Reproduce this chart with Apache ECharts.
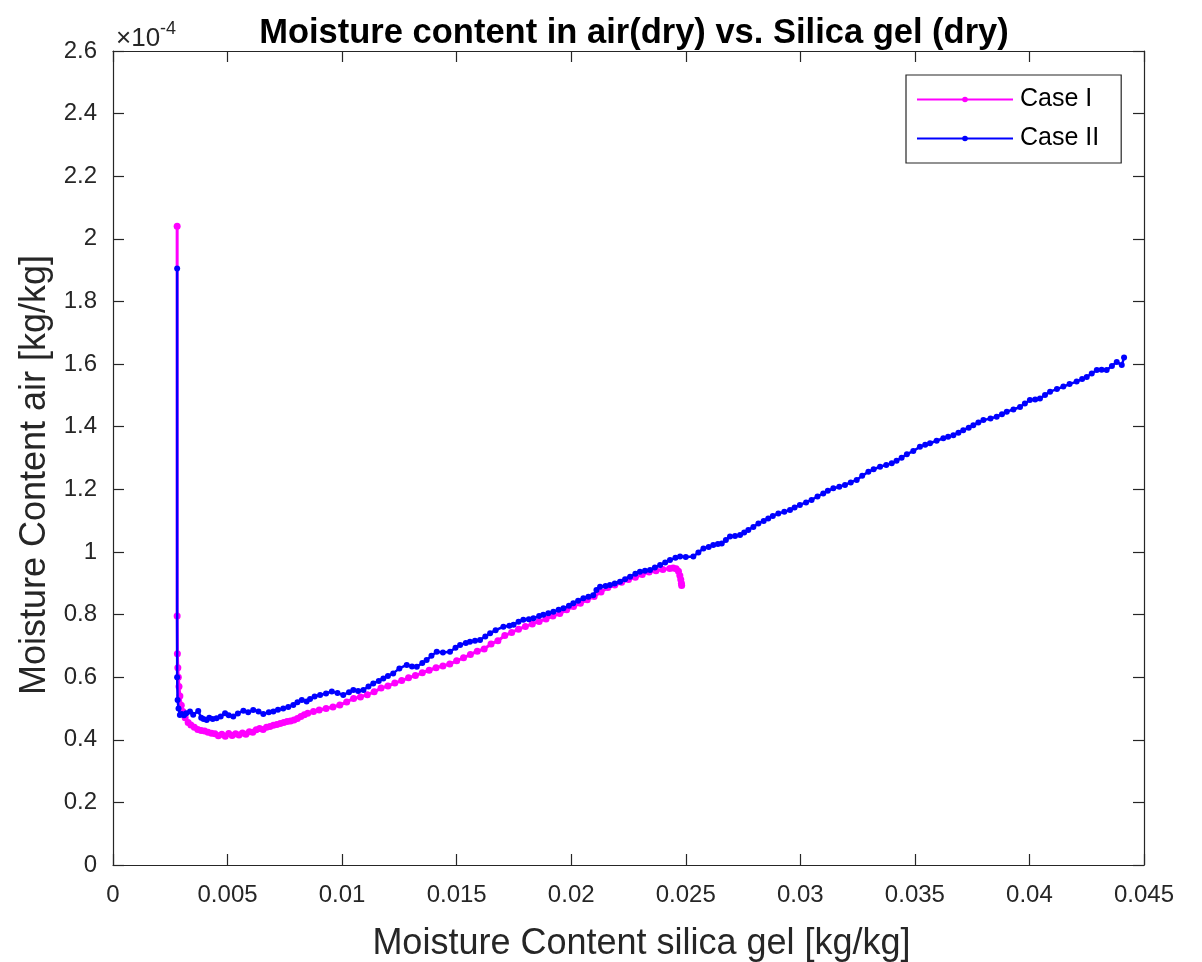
<!DOCTYPE html>
<html>
<head>
<meta charset="utf-8">
<script src="https://cdn.jsdelivr.net/npm/echarts@6/dist/echarts.min.js"></script>
<style>html,body{margin:0;padding:0;background:#fff}#c{width:1202px;height:962px}</style>
</head>
<body>
<div id="c"></div>
<script>
// Values of moisture content in air are in units of 1e-4 kg/kg (axis shows ×10^-4)
const caseIX = [0.00280,0.00280,0.00281,0.00283,0.00285,0.00288,0.00292,0.00298,0.00305,0.00315,0.00328,0.00340,0.00355,0.00370,0.00385,0.00400,0.00415,0.00430,0.00445,0.00460,0.00475,0.00490,0.00505,0.00520,0.00535,0.00550,0.00565,0.00580,0.00595,0.00610,0.00625,0.00640,0.00655,0.00670,0.00685,0.00700,0.00715,0.00730,0.00745,0.00760,0.00775,0.00790,0.00805,0.00820,0.00835,0.00850,0.00875,0.00900,0.00930,0.00960,0.00990,0.01020,0.01050,0.01080,0.01110,0.01140,0.01170,0.01200,0.01230,0.01260,0.01290,0.01320,0.01350,0.01380,0.01410,0.01440,0.01470,0.01500,0.01530,0.01560,0.01590,0.01620,0.01650,0.01680,0.01710,0.01740,0.01770,0.01800,0.01830,0.01860,0.01890,0.01920,0.01950,0.01980,0.02010,0.02040,0.02070,0.02100,0.02130,0.02160,0.02190,0.02220,0.02250,0.02280,0.02310,0.02340,0.02370,0.02400,0.02430,0.02445,0.02458,0.02468,0.02474,0.02478,0.02481,0.02482];
const caseIY = [2.040,0.795,0.675,0.630,0.600,0.570,0.540,0.510,0.490,0.470,0.455,0.447,0.440,0.433,0.430,0.428,0.424,0.421,0.419,0.413,0.418,0.411,0.420,0.414,0.419,0.415,0.422,0.418,0.426,0.424,0.432,0.436,0.433,0.440,0.442,0.446,0.449,0.452,0.455,0.458,0.460,0.463,0.468,0.474,0.480,0.485,0.490,0.495,0.500,0.505,0.511,0.521,0.532,0.537,0.544,0.553,0.565,0.572,0.581,0.589,0.598,0.605,0.614,0.622,0.630,0.636,0.642,0.652,0.662,0.672,0.683,0.690,0.706,0.716,0.733,0.743,0.753,0.762,0.770,0.778,0.786,0.795,0.803,0.815,0.826,0.836,0.847,0.858,0.872,0.886,0.894,0.903,0.912,0.919,0.928,0.936,0.940,0.944,0.947,0.949,0.946,0.938,0.925,0.912,0.900,0.893];

const caseIIX = [0.00280,0.00280,0.00282,0.00286,0.00292,0.00300,0.00310,0.00320,0.00336,0.00350,0.00372,0.00385,0.00395,0.00409,0.00420,0.00435,0.00452,0.00470,0.00489,0.00505,0.00525,0.00545,0.00569,0.00590,0.00612,0.00635,0.00656,0.00680,0.00700,0.00720,0.00743,0.00765,0.00787,0.00805,0.00824,0.00845,0.00860,0.00880,0.00904,0.00930,0.00955,0.00980,0.01005,0.01030,0.01049,0.01070,0.01093,0.01115,0.01136,0.01160,0.01180,0.01200,0.01223,0.01250,0.01282,0.01305,0.01326,0.01350,0.01369,0.01390,0.01413,0.01440,0.01471,0.01495,0.01515,0.01540,0.01558,0.01580,0.01602,0.01625,0.01646,0.01670,0.01704,0.01730,0.01748,0.01770,0.01791,0.01815,0.01835,0.01860,0.01878,0.01900,0.01922,0.01945,0.01966,0.01990,0.02009,0.02030,0.02053,0.02075,0.02096,0.02110,0.02126,0.02150,0.02169,0.02190,0.02213,0.02235,0.02257,0.02280,0.02300,0.02322,0.02344,0.02365,0.02388,0.02410,0.02431,0.02455,0.02475,0.02500,0.02533,0.02555,0.02577,0.02600,0.02620,0.02640,0.02657,0.02675,0.02693,0.02715,0.02737,0.02755,0.02773,0.02795,0.02817,0.02840,0.02860,0.02880,0.02904,0.02930,0.02955,0.02975,0.02998,0.03025,0.03049,0.03075,0.03100,0.03120,0.03144,0.03170,0.03195,0.03220,0.03246,0.03270,0.03297,0.03320,0.03348,0.03375,0.03399,0.03420,0.03442,0.03465,0.03493,0.03522,0.03545,0.03566,0.03595,0.03624,0.03645,0.03668,0.03690,0.03711,0.03735,0.03755,0.03777,0.03799,0.03830,0.03857,0.03880,0.03901,0.03930,0.03959,0.03980,0.04002,0.04025,0.04046,0.04068,0.04090,0.04120,0.04148,0.04175,0.04206,0.04230,0.04250,0.04272,0.04294,0.04315,0.04337,0.04360,0.04381,0.04403,0.04413];
const caseIIY = [1.905,0.600,0.527,0.500,0.479,0.482,0.478,0.485,0.490,0.480,0.492,0.470,0.466,0.463,0.470,0.466,0.469,0.474,0.485,0.478,0.474,0.484,0.493,0.488,0.495,0.490,0.482,0.488,0.490,0.496,0.500,0.505,0.511,0.520,0.527,0.522,0.530,0.538,0.543,0.548,0.554,0.549,0.543,0.552,0.559,0.556,0.559,0.570,0.580,0.588,0.596,0.604,0.612,0.628,0.639,0.634,0.633,0.645,0.655,0.668,0.681,0.679,0.681,0.694,0.703,0.709,0.713,0.716,0.719,0.730,0.740,0.750,0.761,0.764,0.767,0.777,0.783,0.785,0.788,0.795,0.799,0.804,0.809,0.815,0.820,0.828,0.836,0.844,0.852,0.857,0.862,0.878,0.889,0.891,0.894,0.899,0.905,0.913,0.921,0.930,0.937,0.940,0.942,0.950,0.958,0.966,0.974,0.981,0.985,0.984,0.985,0.998,1.011,1.016,1.022,1.025,1.027,1.038,1.049,1.051,1.054,1.062,1.070,1.080,1.091,1.099,1.107,1.115,1.123,1.128,1.134,1.142,1.150,1.158,1.166,1.177,1.187,1.195,1.203,1.208,1.214,1.222,1.230,1.243,1.256,1.264,1.272,1.278,1.283,1.291,1.301,1.312,1.322,1.336,1.342,1.347,1.355,1.363,1.368,1.373,1.381,1.389,1.397,1.405,1.413,1.421,1.426,1.432,1.440,1.448,1.455,1.463,1.474,1.485,1.487,1.490,1.501,1.512,1.520,1.528,1.536,1.544,1.552,1.559,1.570,1.581,1.582,1.581,1.594,1.607,1.597,1.621];

const seriesNames = ['Case I', 'Case II'];
const titleText = 'Moisture content in air(dry) vs. Silica gel (dry)';
const xName = 'Moisture Content silica gel [kg/kg]';
const yName = 'Moisture Content air [kg/kg]';

const FONT = '"Liberation Sans", Arial, Helvetica, sans-serif';
const AX = '#262626';

function pairs(xs, ys) { return xs.map((x, i) => [x, ys[i]]); }
function boxAxis() {
  return {
    axisLine: { show: true, onZero: false, lineStyle: { color: AX, width: 1.2 } },
    axisTick: { show: true, inside: true, length: 11, lineStyle: { color: AX, width: 1.2 } },
    splitLine: { show: false }
  };
}

const chart = echarts.init(document.getElementById('c'), null, { renderer: 'canvas' });

chart.setOption({
  animation: false,
  backgroundColor: '#ffffff',
  textStyle: { fontFamily: FONT },
  title: {
    text: titleText,
    left: 629, textAlign: 'center', top: 11,
    textStyle: { fontFamily: FONT, fontSize: 34.5, fontWeight: 'bold', color: '#000' }
  },
  grid: { left: 113, right: 58, top: 51, bottom: 97, containLabel: false, outerBoundsMode: 'none' },
  legend: {
    data: seriesNames,
    orient: 'vertical',
    left: 906, top: 75,
    padding: [12, 22, 12, 10],
    itemGap: 14,
    itemWidth: 96, itemHeight: 7,
    backgroundColor: '#fff',
    borderColor: AX, borderWidth: 1.2, borderRadius: 0,
    textStyle: { fontFamily: FONT, fontSize: 25, color: '#000', padding: [0, 0, 0, 2], lineHeight: 25 }
  },
  xAxis: [
    Object.assign(boxAxis(), {
      type: 'value', min: 0, max: 0.045, interval: 0.005, position: 'bottom',
      name: xName, nameLocation: 'middle', nameGap: 61,
      nameTextStyle: { fontFamily: FONT, fontSize: 36, color: AX, padding: [0, 0, 0, 26] },
      axisLabel: { fontFamily: FONT, fontSize: 24, color: AX, margin: 18,
        formatter: v => String(+v.toFixed(3)) }
    }),
    Object.assign(boxAxis(), {
      type: 'value', min: 0, max: 0.045, interval: 0.005, position: 'top',
      axisLabel: { show: false }
    })
  ],
  yAxis: [
    Object.assign(boxAxis(), {
      type: 'value', min: 0, max: 2.6, interval: 0.2, position: 'left',
      name: yName, nameLocation: 'middle', nameGap: 60,
      nameTextStyle: { fontFamily: FONT, fontSize: 36, color: AX, padding: [0, 34, 0, 0] },
      axisLabel: { fontFamily: FONT, fontSize: 24, color: AX, margin: 16,
        formatter: v => String(+v.toFixed(1)) }
    }),
    Object.assign(boxAxis(), {
      type: 'value', min: 0, max: 2.6, interval: 0.2, position: 'right',
      axisLabel: { show: false }
    })
  ],
  graphic: [{
    type: 'text', left: 116, top: 20,
    style: {
      text: '{a|×10}{b|-4}',
      rich: {
        a: { fontFamily: FONT, fontSize: 26, fill: AX, verticalAlign: 'bottom' },
        b: { fontFamily: FONT, fontSize: 18, fill: AX, verticalAlign: 'top', padding: [0, 0, 14, 0] }
      }
    }
  }],
  series: [
    {
      name: seriesNames[0], type: 'line', xAxisIndex: 0, yAxisIndex: 0,
      data: pairs(caseIX, caseIY),
      symbol: 'circle', symbolSize: 7, showAllSymbol: true,
      lineStyle: { color: '#ff00ff', width: 3 },
      itemStyle: { color: '#ff00ff' },
      z: 2
    },
    {
      name: seriesNames[1], type: 'line', xAxisIndex: 0, yAxisIndex: 0,
      data: pairs(caseIIX, caseIIY),
      symbol: 'circle', symbolSize: 6, showAllSymbol: true,
      lineStyle: { color: '#0000ff', width: 2.5 },
      itemStyle: { color: '#0000ff' },
      z: 3
    }
  ]
});
</script>
</body>
</html>
